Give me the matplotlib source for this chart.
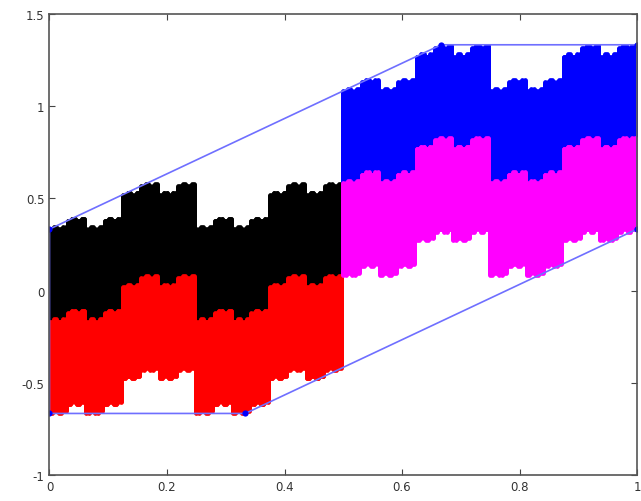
import numpy as np
import matplotlib
matplotlib.use('Agg')
import matplotlib.pyplot as plt

# Self-affine IFS: f_i(v) = M v + t_i
linear_part = [[0.5, 0.0], [0.75, -0.5]]
shift_x = [0.0, 0.0, 0.5, 0.5]
shift_y = [0.0, -0.5, 0.75, 0.25]
piece_colors = ['black', 'red', 'blue', 'magenta']
depth = 8

# Convex hull outline
hull_x = [0, 2/3, 1, 1, 1/3, 0, 0]
hull_y = [1/3, 4/3, 4/3, 1/3, -2/3, -2/3, 1/3]

xticks = [0, 0.2, 0.4, 0.6, 0.8, 1]
xticklabels = ['0', '0.2', '0.4', '0.6', '0.8', '1']
yticks = [-1, -0.5, 0, 0.5, 1, 1.5]
yticklabels = ['-1', '-0.5', '0', '0.5', '1', '1.5']

M = np.array(linear_part)
T = np.stack([shift_x, shift_y], axis=1)

pts = np.zeros((1, 2))
for _ in range(depth - 1):
    pts = np.concatenate([pts @ M.T + T[i] for i in range(len(shift_x))])

fig = plt.figure(figsize=(6.41, 5.02), dpi=100)
ax = fig.add_axes([0.0772, 0.052, 0.9166, 0.918])

for i, c in enumerate(piece_colors):
    p = pts @ M.T + T[i]
    ax.plot(p[:, 0], p[:, 1], linestyle='none', marker='o', markersize=3.4,
            markeredgewidth=0, color=c)

ax.plot(hull_x, hull_y, color='#6f6fff', linewidth=1.2)
ax.plot(hull_x[:-1], hull_y[:-1], linestyle='none', marker='o', markersize=4.5,
        color='blue', markeredgewidth=0)

ax.set_xlim(0, 1)
ax.set_ylim(-1, 1.5)
ax.set_xticks(xticks)
ax.set_xticklabels(xticklabels)
ax.set_yticks(yticks)
ax.set_yticklabels(yticklabels)
ax.tick_params(direction='in', top=True, right=True, length=4, width=0.8,
               colors='#444444', labelsize=8.5, labelcolor='#333333')
for s in ax.spines.values():
    s.set_color('#555555')
    s.set_linewidth(1.2)

fig.savefig('out.png', dpi=100)
